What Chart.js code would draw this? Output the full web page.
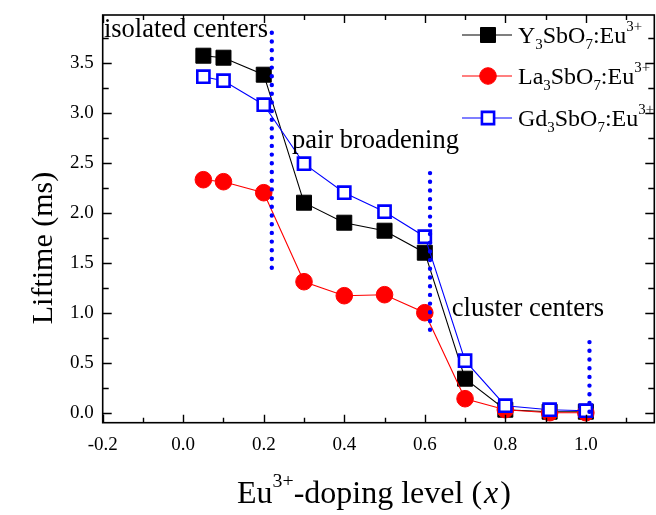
<!DOCTYPE html>
<html>
<head>
<meta charset="utf-8">
<script src="https://cdn.jsdelivr.net/npm/chart.js@4.4.1/dist/chart.umd.min.js"></script>
<style>
  html, body { margin: 0; padding: 0; background: #fff; }
  canvas { display: block; }
</style>
</head>
<body>
<canvas id="c" width="656" height="515"></canvas>
<script>
// Eu3+ doping level (x) and measured lifetimes (ms) for the three hosts
const dopingLevels = [0.05, 0.1, 0.2, 0.3, 0.4, 0.5, 0.6, 0.7, 0.8, 0.91, 1.0];
const lifetimeY  = [3.57, 3.55, 3.38, 2.10, 1.90, 1.82, 1.60, 0.34, 0.03, 0.01, 0.01];
const lifetimeLa = [2.33, 2.31, 2.20, 1.31, 1.17, 1.18, 1.00, 0.14, 0.03, 0.00, 0.00];
const lifetimeGd = [3.36, 3.32, 3.08, 2.49, 2.20, 2.01, 1.76, 0.52, 0.07, 0.03, 0.02];

// dotted separators between the concentration regimes
const guideX    = [0.22, 0.613, 1.009];
const guideLow  = [1.45, 0.83, 0.01];
const guideHigh = [3.86, 2.43, 0.71];

// region captions: text and left/baseline anchor in data units
const regionText = ['isolated centers', 'pair broadening', 'cluster centers'];
const regionX    = [-0.197, 0.27, 0.667];
const regionY    = [3.76, 2.645, 0.965];

// axis ranges and tick values
const xRange = [-0.2, 1.17];
const yRange = [-0.1, 3.977];
const xTicks = [-0.2, 0.0, 0.2, 0.4, 0.6, 0.8, 1.0];
const yTicks = [0.0, 0.5, 1.0, 1.5, 2.0, 2.5, 3.0, 3.5];
const xMinor = 0.1, yMinor = 0.25;

const SERIF = '"Liberation Serif", "Times New Roman", serif';

function pts(ys) { return dopingLevels.map((x, i) => ({ x, y: ys[i] })); }

const series = [
  { label: 'Y', data: lifetimeY, color: '#000000', style: 'rect', fill: '#000000', radius: 10.6, bw: 1, order: 3 },
  { label: 'La', data: lifetimeLa, color: '#ff0000', style: 'circle', fill: '#ff0000', radius: 8.3, bw: 1, order: 2 },
  { label: 'Gd', data: lifetimeGd, color: '#0000ff', style: 'rect', fill: '#ffffff', radius: 8.6, bw: 2.6, order: 1 }
];

const datasets = series.map(s => ({
  label: s.label,
  data: pts(s.data),
  borderColor: s.color,
  borderWidth: 1.1,
  pointStyle: s.style,
  pointRadius: s.radius,
  pointHoverRadius: s.radius,
  pointBackgroundColor: s.fill,
  pointBorderColor: s.color,
  pointBorderWidth: s.bw,
  order: s.order,
  tension: 0
}));

guideX.forEach((gx, i) => {
  datasets.push({
    label: 'guide' + i,
    data: [{ x: gx, y: guideLow[i] }, { x: gx, y: guideHigh[i] }],
    borderColor: '#0000ff',
    borderWidth: 4.4,
    borderDash: [0, 8.7],
    borderCapStyle: 'round',
    pointRadius: 0,
    order: 0,
    clip: false
  });
});

// draw a run of text pieces with sub/superscripts; returns end x
function richText(ctx, parts, x, y, size) {
  ctx.save();
  ctx.textBaseline = 'alphabetic';
  ctx.textAlign = 'left';
  for (const p of parts) {
    let fs = size, dy = 0;
    if (p.sub) { fs = size * 0.62; dy = size * 0.25; }
    if (p.sup) { fs = size * 0.62; dy = -size * 0.5; }
    ctx.font = (p.italic ? 'italic ' : '') + fs + 'px ' + SERIF;
    ctx.fillText(p.t, x, y + dy);
    x += ctx.measureText(p.t).width + (p.gap || 0);
  }
  ctx.restore();
  return x;
}

const legendNames = [
  [{ t: 'Y' }, { t: '3', sub: true }, { t: 'SbO' }, { t: '7', sub: true }, { t: ':Eu' }, { t: '3+', sup: true }],
  [{ t: 'La' }, { t: '3', sub: true }, { t: 'SbO' }, { t: '7', sub: true }, { t: ':Eu' }, { t: '3+', sup: true }],
  [{ t: 'Gd' }, { t: '3', sub: true }, { t: 'SbO' }, { t: '7', sub: true }, { t: ':Eu' }, { t: '3+', sup: true }]
];

function marker(ctx, s, x, y) {
  ctx.save();
  ctx.fillStyle = s.fill;
  ctx.strokeStyle = s.color;
  ctx.lineWidth = s.bw;
  ctx.beginPath();
  if (s.style === 'circle') {
    ctx.arc(x, y, s.radius, 0, Math.PI * 2);
  } else {
    const h = s.radius * Math.SQRT1_2;
    ctx.rect(x - h, y - h, 2 * h, 2 * h);
  }
  ctx.fill();
  ctx.stroke();
  ctx.restore();
}

const framePlugin = {
  id: 'frame',
  afterDraw(chart) {
    const { ctx, chartArea: a, scales } = chart;
    const xs = scales.x, ys = scales.y;
    ctx.save();
    ctx.strokeStyle = '#000';
    ctx.lineWidth = 1.6;
    ctx.strokeRect(a.left, a.top, a.right - a.left, a.bottom - a.top);
    ctx.lineWidth = 1.4;
    ctx.beginPath();
    // inward ticks on all four sides
    for (let k = 0; xRange[0] + k * xMinor <= xRange[1] + 1e-9; k++) {
      const v = xRange[0] + k * xMinor;
      const len = (k % 2 === 0) ? 8 : 5;
      const px = Math.round(xs.getPixelForValue(v)) + 0.5;
      ctx.moveTo(px, a.bottom); ctx.lineTo(px, a.bottom - len);
      ctx.moveTo(px, a.top); ctx.lineTo(px, a.top + len);
    }
    for (let k = 0; k * yMinor <= yRange[1] + 1e-9; k++) {
      const v = k * yMinor;
      const len = (k % 2 === 0) ? 9 : 6;
      const py = Math.round(ys.getPixelForValue(v)) + 0.5;
      ctx.moveTo(a.left, py); ctx.lineTo(a.left + len, py);
      ctx.moveTo(a.right, py); ctx.lineTo(a.right - len, py);
    }
    ctx.stroke();

    // region captions
    ctx.fillStyle = '#000';
    ctx.font = '26.5px ' + SERIF;
    ctx.textBaseline = 'alphabetic';
    regionText.forEach((t, i) => {
      ctx.fillText(t, xs.getPixelForValue(regionX[i]), ys.getPixelForValue(regionY[i]));
    });

    // legend
    const rows = [35, 76, 118];
    series.forEach((s, i) => {
      const y = rows[i];
      ctx.strokeStyle = s.color;
      ctx.lineWidth = 1.1;
      ctx.beginPath();
      ctx.moveTo(462, y); ctx.lineTo(512, y);
      ctx.stroke();
      marker(ctx, s, 488, y);
      ctx.fillStyle = '#000';
      richText(ctx, legendNames[i], 518, y + 8, 24);
    });

    // axis titles
    ctx.fillStyle = '#000';
    richText(ctx, [{ t: 'Eu' }, { t: '3+', sup: true }, { t: '-doping level (', gap: 2 }, { t: 'x', italic: true, gap: 2 }, { t: ')' }], 237, 503, 32);
    ctx.save();
    ctx.translate(52, 248);
    ctx.rotate(-Math.PI / 2);
    ctx.font = '30px ' + SERIF;
    ctx.textAlign = 'center';
    ctx.textBaseline = 'alphabetic';
    ctx.fillText('Liftime (ms)', 0, 0);
    ctx.restore();
    ctx.restore();
  }
};

new Chart(document.getElementById('c'), {
  type: 'line',
  data: { datasets },
  options: {
    responsive: false,
    animation: false,
    events: [],
    layout: { autoPadding: false, padding: { left: 0, top: 15, right: 1.7, bottom: 0 } },
    plugins: { legend: { display: false }, tooltip: { enabled: false } },
    scales: {
      x: {
        type: 'linear',
        min: xRange[0], max: xRange[1],
        grid: { display: false, drawTicks: false },
        border: { display: false },
        afterBuildTicks: s => { s.ticks = xTicks.map(v => ({ value: v })); },
        ticks: {
          padding: 11,
          color: '#000',
          font: { family: SERIF, size: 19 },
          maxRotation: 0,
          autoSkip: false,
          callback: v => v.toFixed(1)
        },
        afterFit: s => { s.height = 515 - 422.7; s.paddingLeft = 0; s.paddingRight = 0; }
      },
      y: {
        type: 'linear',
        min: yRange[0], max: yRange[1],
        grid: { display: false, drawTicks: false },
        border: { display: false },
        afterBuildTicks: s => { s.ticks = yTicks.map(v => ({ value: v })); },
        ticks: {
          padding: 9,
          color: '#000',
          font: { family: SERIF, size: 19 },
          autoSkip: false,
          callback: v => v.toFixed(1)
        },
        afterFit: s => { s.width = 102.7; s.paddingTop = 0; s.paddingBottom = 0; }
      }
    }
  },
  plugins: [framePlugin]
});
</script>
</body>
</html>
